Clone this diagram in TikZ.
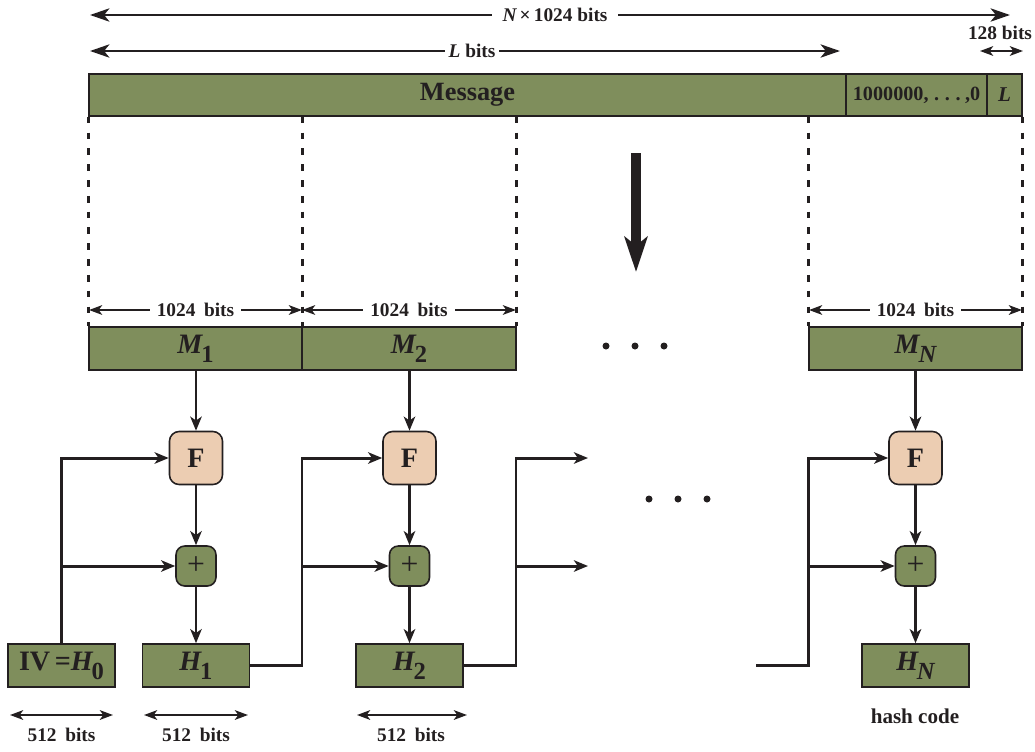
\documentclass[tikz,border=0pt]{standalone}
\usepackage{fontspec}
\setmainfont{Liberation Serif}
\usepackage{graphicx}
\usetikzlibrary{arrows.meta,calc}
\definecolor{grn}{RGB}{127,142,92}
\definecolor{sal}{RGB}{236,205,178}
\definecolor{ink}{RGB}{35,31,32}
\def\pxu{0.02cm}
\newcommand\mlab[2]{\fontsize{16}{16}\selectfont\bfseries\itshape #1\kern-0.04em\raisebox{-0.32em}{\fontsize{14}{14}\selectfont #2}}
\begin{document}
\begin{tikzpicture}[x=0.02cm,y=-0.02cm,
  every node/.style={text=ink,inner sep=0pt,font=\bfseries},
  blk/.style={draw=ink,fill=grn,line width=0.9pt,minimum height=43*\pxu},
  fstyle/.style={draw=ink,fill=sal,line width=0.9pt,rounded corners=5.5pt,minimum width=53*\pxu,minimum height=53*\pxu,font=\fontsize{16}{16}\selectfont\bfseries},
  pstyle/.style={draw=ink,fill=grn,line width=0.9pt,rounded corners=5pt,minimum width=40*\pxu,minimum height=40*\pxu,font=\fontsize{18}{18}\selectfont},
  ln/.style={draw=ink,line width=1.7pt},
  arr/.style={ln,-{Stealth[length=8pt,width=6.5pt,inset=2.2pt]}},
  bigtip/.style={{Stealth[length=11pt,width=7.5pt,inset=3pt]}-{Stealth[length=11pt,width=7.5pt,inset=3pt]}},
  dimarr/.style={draw=ink,line width=1.2pt,{Stealth[length=7.5pt,width=5.5pt,inset=2pt]}-{Stealth[length=7.5pt,width=5.5pt,inset=2pt]}},
  lbl/.style={fill=white,inner xsep=4pt,inner ysep=1pt,font=\fontsize{11}{11}\selectfont\bfseries},
  txt/.style={font=\fontsize{11}{11}\selectfont\bfseries},
  dsh/.style={draw=ink,line width=1.6pt,dash pattern=on 3.8pt off 5.2pt},
  dotc/.style={fill=ink,circle,inner sep=0pt,minimum size=7*\pxu}]
\path[use as bounding box] (0,0) rectangle (1035,751);

% top dimension arrows
\coordinate (t1) at (90,15); \coordinate (t2) at (1010,15);
\draw[ln,bigtip] (t1) -- (t2);
\node[lbl,inner xsep=6pt] (tlab) at (555,15) {\itshape N\upshape\,×\,1024 bits};
\coordinate (l1) at (90,51); \coordinate (l2) at (840,51);
\draw[ln,bigtip] (l1) -- (l2);
\node[lbl,inner xsep=2pt] (llab) at (472,51) {\itshape L\upshape\ bits};
\node[txt] (lenlab) at (1000,33) {128 bits};
\coordinate (r1) at (980,51); \coordinate (r2) at (1023,51);
\draw[dimarr] (r1) -- (r2);

% message bar
\node[blk,minimum width=757*\pxu,minimum height=42*\pxu] (msg) at (467.5,95) {\fontsize{15}{15}\selectfont Message};
\node[blk,minimum width=141*\pxu,minimum height=42*\pxu] (pad) at (916.5,95) {\fontsize{11.5}{11.5}\selectfont 1000000,\kern3.2pt.\kern3.2pt.\kern3.2pt.\kern2.5pt,0};
\node[blk,minimum width=35*\pxu,minimum height=42*\pxu] (len) at (1004.5,95) {\fontsize{12}{12}\selectfont\itshape L};

% message blocks
\node[blk,minimum width=213*\pxu] (m1) at (195.5,348.5) {\mlab{M}{\upshape 1}};
\node[blk,minimum width=214*\pxu] (m2) at (409,348.5) {\mlab{M}{\upshape 2}};
\node[blk,minimum width=213*\pxu] (mN) at (915.5,348.5) {\mlab{M}{N}};

% dashed lines
\draw[dsh] (msg.south west) -- (m1.north west);
\draw[dsh] (m1.north east |- msg.south) -- (m1.north east);
\draw[dsh] (m2.north east |- msg.south) -- (m2.north east);
\draw[dsh] (mN.north west |- msg.south) -- (mN.north west);
\draw[dsh] (len.south east) -- (mN.north east);

% big arrow
\coordinate (ba) at (636,153); \coordinate (bb) at (636,272);
\draw[draw=ink,line width=5.5pt,-{Stealth[length=20pt,width=13pt,inset=5pt]}] (ba) -- (bb);

% 1024 bits dimension arrows
\coordinate (a1) at (89,310); \coordinate (a2) at (302,310); \coordinate (a3) at (516,310);
\coordinate (a4) at (809,310); \coordinate (a5) at (1022,310);
\draw[dimarr] (a1) -- (a2);
\draw[dimarr] (a2) -- (a3);
\draw[dimarr] (a4) -- (a5);
\node[lbl] (k1) at ($(a1)!0.5!(a2)$) {1024\hspace{0.45em}bits};
\node[lbl] (k2) at ($(a2)!0.5!(a3)$) {1024\hspace{0.45em}bits};
\node[lbl] (k3) at ($(a4)!0.5!(a5)$) {1024\hspace{0.45em}bits};

% dots
\node[dotc] (u1) at (606,346) {};
\node[dotc] (u2) at (635,346) {};
\node[dotc] (u3) at (664,346) {};
\node[dotc] (v1) at (649,499) {};
\node[dotc] (v2) at (678,499) {};
\node[dotc] (v3) at (707,499) {};

% compression stages
\node[fstyle] (f1) at (196,458) {F};
\node[fstyle] (f2) at (409.5,458) {F};
\node[fstyle] (fN) at (915.5,458) {F};
\node[pstyle] (p1) at (196,566) {+};
\node[pstyle] (p2) at (409.5,566) {+};
\node[pstyle] (pN) at (915.5,566) {+};
\node[blk,minimum width=107*\pxu] (h0) at (61.5,665.5) {\fontsize{16}{16}\selectfont IV\,=\mlab{H}{\upshape 0}};
\node[blk,minimum width=107*\pxu] (h1) at (196,665.5) {\mlab{H}{\upshape 1}};
\node[blk,minimum width=107*\pxu] (h2) at (409.5,665.5) {\mlab{H}{\upshape 2}};
\node[blk,minimum width=107*\pxu] (hN) at (915.5,665.5) {\mlab{H}{N}};

% vertical flow
\draw[arr] (m1.south -| f1) -- (f1);
\draw[arr] (f1) -- (p1);
\draw[arr] (p1) -- (h1);
\draw[arr] (m2.south -| f2) -- (f2);
\draw[arr] (f2) -- (p2);
\draw[arr] (p2) -- (h2);
\draw[arr] (mN) -- (fN);
\draw[arr] (fN) -- (pN);
\draw[arr] (pN) -- (hN);

% chaining
\draw[arr] (h0.north) |- (f1.west);
\draw[arr] (h0.north |- p1) -- (p1.west);
\coordinate (j1) at (302,665.5);
\draw[arr] (h1.east) -- (j1) |- (f2.west);
\draw[arr] (j1 |- p2) -- (p2.west);
\coordinate (j2) at (516,665.5);
\coordinate (e1) at (588,458); \coordinate (e2) at (588,566);
\draw[arr] (h2.east) -- (j2) |- (e1);
\draw[arr] (j2 |- e2) -- (e2);
\coordinate (s3) at (756,665.5); \coordinate (j3) at (808,665.5);
\draw[arr] (s3) -- (j3) |- (fN.west);
\draw[arr] (j3 |- pN) -- (pN.west);

% 512 bits
\coordinate (b1) at (10,715); \coordinate (b2) at (113,715);
\coordinate (b3) at (144,715); \coordinate (b4) at (248,715);
\coordinate (b5) at (357,715); \coordinate (b6) at (467,715);
\draw[dimarr] (b1) -- (b2);
\draw[dimarr] (b3) -- (b4);
\draw[dimarr] (b5) -- (b6);
\node[txt] (w1) at (61.5,735) {512\hspace{0.45em}bits};
\node[txt] (w2) at (196,735) {512\hspace{0.45em}bits};
\node[txt] (w3) at (411,735) {512\hspace{0.45em}bits};
\node[font=\fontsize{12}{12}\selectfont\bfseries] (hc) at (915,716) {hash code};
\end{tikzpicture}
\end{document}
